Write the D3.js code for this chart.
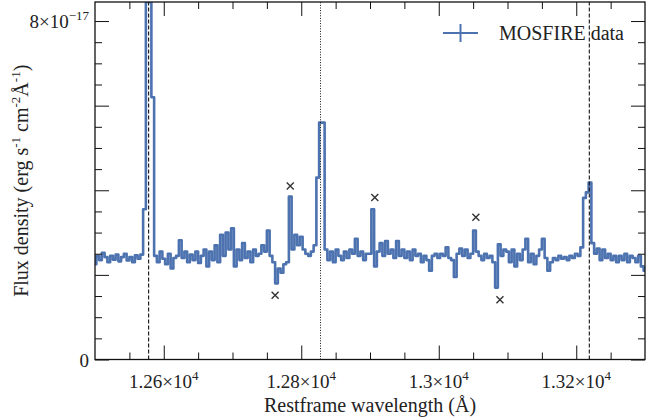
<!DOCTYPE html>
<html>
<head>
<meta charset="utf-8">
<script src="https://cdn.jsdelivr.net/npm/d3@7"></script>
<style>
  body { margin: 0; background: #fff; }
  text { font-family: "Liberation Serif", "Times New Roman", Times, serif; fill: #222; }
</style>
</head>
<body>
<div id="chart"></div>
<script>
// Spectrum: restframe wavelength (Å) and flux density (units of 1e-17 erg/s/cm2/Å)
const wavelengths = [
  12500, 12504, 12508, 12512, 12516, 12520, 12524, 12528, 12532, 12536,
  12540, 12544, 12548, 12552, 12556, 12560, 12564, 12568, 12572, 12576,
  12580, 12584, 12588, 12592, 12596, 12600, 12604, 12608, 12612, 12616,
  12620, 12624, 12628, 12632, 12636, 12640, 12644, 12648, 12652, 12656,
  12660, 12664, 12668, 12672, 12676, 12680, 12684, 12688, 12692, 12696,
  12700, 12704, 12708, 12712, 12716, 12720, 12724, 12728, 12732, 12736,
  12740, 12744, 12748, 12752, 12756, 12760, 12764, 12768, 12772, 12776,
  12780, 12784, 12788, 12792, 12796, 12800, 12804, 12808, 12812, 12816,
  12820, 12824, 12828, 12832, 12836, 12840, 12844, 12848, 12852, 12856,
  12860, 12864, 12868, 12872, 12876, 12880, 12884, 12888, 12892, 12896,
  12900, 12904, 12908, 12912, 12916, 12920, 12924, 12928, 12932, 12936,
  12940, 12944, 12948, 12952, 12956, 12960, 12964, 12968, 12972, 12976,
  12980, 12984, 12988, 12992, 12996, 13000, 13004, 13008, 13012, 13016,
  13020, 13024, 13028, 13032, 13036, 13040, 13044, 13048, 13052, 13056,
  13060, 13064, 13068, 13072, 13076, 13080, 13084, 13088, 13092, 13096,
  13100, 13104, 13108, 13112, 13116, 13120, 13124, 13128, 13132, 13136,
  13140, 13144, 13148, 13152, 13156, 13160, 13164, 13168, 13172, 13176,
  13180, 13184, 13188, 13192, 13196, 13200, 13204, 13208, 13212, 13216,
  13220, 13224, 13228, 13232, 13236, 13240, 13244, 13248, 13252, 13256,
  13260, 13264, 13268, 13272, 13276, 13280, 13284, 13288, 13292, 13296,
  13300
];
const flux = [
  2.25, 2.45, 2.35, 2.52, 2.42, 2.3, 2.45, 2.36, 2.48, 2.32,
  2.42, 2.5, 2.34, 2.42, 2.3, 2.46, 2.38, 2.48, 3.55, 8.45,
  8.45, 6.2, 2.45, 2.3, 2.55, 2.38, 2.25, 2.5, 2.15, 2.4,
  2.45, 2.82, 2.4, 2.55, 2.3, 2.48, 2.35, 2.55, 2.28, 2.45,
  2.6, 2.2, 2.55, 2.35, 2.7, 2.3, 2.95, 2.45, 3.0, 2.6,
  3.1, 2.2, 2.6, 2.35, 2.75, 2.4, 2.55, 2.3, 2.6, 2.45,
  2.5, 2.7, 2.55, 3.05, 2.45, 2.3, 1.8, 2.15, 2.05, 2.25,
  2.3, 3.85, 2.6, 2.95, 2.7, 2.9, 2.6, 2.5, 2.45, 2.55,
  2.7, 4.3, 5.6, 5.6, 2.6, 2.35, 2.55, 2.3, 2.6, 2.45,
  2.35, 2.55, 2.4, 2.6, 2.5, 2.85, 2.45, 2.55, 2.35, 2.5,
  2.5, 3.55, 2.2, 2.55, 2.75, 2.45, 2.8, 2.5, 2.6, 2.4,
  2.8, 2.45, 2.6, 2.4, 2.55, 2.35, 2.6, 2.45, 2.5, 2.3,
  2.45, 2.35, 2.1, 2.45, 2.5, 2.4, 2.5, 2.45, 2.65, 2.4,
  2.35, 1.95, 2.5, 2.62, 2.45, 2.6, 2.4, 2.5, 3.05, 2.55,
  2.45, 2.35, 2.5, 2.4, 2.45, 2.3, 1.7, 2.72, 2.45, 2.6,
  2.55, 2.3, 2.6, 2.2, 2.5, 2.35, 2.6, 2.85, 2.3, 2.5,
  2.25, 2.45, 2.6, 2.85, 2.4, 2.1, 2.3, 2.4, 2.35, 2.45,
  2.38, 2.42, 2.35, 2.45, 2.4, 2.5, 2.45, 2.65, 3.82, 3.95,
  4.18, 2.75, 2.5, 2.62, 2.35, 2.6, 2.4, 2.5, 2.35, 2.45,
  2.3, 2.45, 2.35, 2.5, 2.3, 2.45, 2.4, 2.3, 2.45, 2.2,
  2.1
];

// Flagged residuals (x markers)
const markerWave = [12762, 12784, 12907, 13054, 13089];
const markerFlux = [1.52, 4.10, 3.83, 3.36, 1.41];

// Line positions
const dashedLines = [12578, 13219];
const dottedLines = [12828];

// Ticks
const xMajor = [12600, 12800, 13000, 13200];
const xMinor = [12550, 12650, 12700, 12750, 12850, 12900, 12950, 13050, 13100, 13150, 13250];
const xLabelMantissa = ['1.26', '1.28', '1.3', '1.32'];
const yMajor = [0, 2, 4, 6, 8];
const yMinor = [0.5, 1, 1.5, 2.5, 3, 3.5, 4.5, 5, 5.5, 6.5, 7, 7.5];
const yLabelValues = [0, 8];
const yLabelMantissa = ['0', '8'];
const yLabelExponent = ['', '−17'];

const width = 657;
const height = 420;
const blue = '#4c72b0';

const svg = d3.select('#chart')
  .append('svg')
  .attr('width', width)
  .attr('height', height);

const x = d3.scaleLinear().domain([12500, 13300]).range([95, 645]);
const y = d3.scaleLinear().domain([0, 8.45]).range([359.5, 2]);

svg.append('clipPath').attr('id', 'plot-clip')
  .append('rect')
  .attr('x', x.range()[0]).attr('y', y.range()[1])
  .attr('width', x.range()[1] - x.range()[0])
  .attr('height', y.range()[0] - y.range()[1]);

// Spectrum as steps
const spec = wavelengths.map((w, i) => [w, flux[i]]);
const line = d3.line()
  .x(d => x(d[0]))
  .y(d => y(d[1]))
  .curve(d3.curveStep);

svg.append('path')
  .datum(spec)
  .attr('clip-path', 'url(#plot-clip)')
  .attr('fill', 'none')
  .attr('stroke', blue)
  .attr('stroke-width', 2.6)
  .attr('stroke-linejoin', 'round')
  .attr('d', line);

// Vertical reference lines
svg.selectAll('.dashed')
  .data(dashedLines)
  .join('line')
  .attr('x1', d => x(d)).attr('x2', d => x(d))
  .attr('y1', y.range()[0]).attr('y2', y.range()[1])
  .attr('stroke', '#111')
  .attr('stroke-width', 1.1)
  .attr('stroke-dasharray', '4,2');

svg.selectAll('.dotted')
  .data(dottedLines)
  .join('line')
  .attr('x1', d => x(d)).attr('x2', d => x(d))
  .attr('y1', y.range()[0]).attr('y2', y.range()[1])
  .attr('stroke', '#111')
  .attr('stroke-width', 1)
  .attr('stroke-dasharray', '1,1.6');

// x markers
const ms = 3.5;
const markers = svg.selectAll('.marker')
  .data(markerWave.map((w, i) => [w, markerFlux[i]]))
  .join('g')
  .attr('transform', d => `translate(${x(d[0])},${y(d[1])})`);
markers.append('path')
  .attr('d', `M${-ms},${-ms}L${ms},${ms}M${-ms},${ms}L${ms},${-ms}`)
  .attr('stroke', '#333')
  .attr('stroke-width', 1.4)
  .attr('fill', 'none');

// Axes with inward ticks on all four sides
function tickAxis(axis, values, size, transform) {
  const g = svg.append('g')
    .attr('transform', transform)
    .call(axis.tickValues(values).tickSize(size).tickFormat(''));
  g.select('.domain').remove();
  g.selectAll('line').attr('stroke', '#111').attr('stroke-width', 1);
}
const bottomY = y.range()[0], topY = y.range()[1];
const leftX = x.range()[0], rightX = x.range()[1];
tickAxis(d3.axisBottom(x), xMajor, -14, `translate(0,${bottomY})`);
tickAxis(d3.axisBottom(x), xMinor, -7, `translate(0,${bottomY})`);
tickAxis(d3.axisTop(x), xMajor, -14, `translate(0,${topY})`);
tickAxis(d3.axisTop(x), xMinor, -7, `translate(0,${topY})`);
tickAxis(d3.axisLeft(y), yMajor, -14, `translate(${leftX},0)`);
tickAxis(d3.axisLeft(y), yMinor, -7, `translate(${leftX},0)`);
tickAxis(d3.axisRight(y), yMajor, -14, `translate(${rightX},0)`);
tickAxis(d3.axisRight(y), yMinor, -7, `translate(${rightX},0)`);

svg.append('rect')
  .attr('x', leftX).attr('y', topY)
  .attr('width', rightX - leftX).attr('height', bottomY - topY)
  .attr('fill', 'none')
  .attr('stroke', '#111')
  .attr('stroke-width', 1.3);

// Tick labels
const xl = svg.selectAll('.xlabel')
  .data(xMajor)
  .join('text')
  .attr('x', d => x(d))
  .attr('y', bottomY + 28)
  .attr('text-anchor', 'middle')
  .style('font-size', '19px');
xl.append('tspan').text((d, i) => xLabelMantissa[i] + '×10');
xl.append('tspan').attr('dy', -8).style('font-size', '13px').text('4');

const yl = svg.selectAll('.ylabel')
  .data(yLabelValues)
  .join('text')
  .attr('x', leftX - 6)
  .attr('y', d => y(d) + 7)
  .attr('text-anchor', 'end')
  .style('font-size', '19px');
yl.append('tspan').text((d, i) => yLabelMantissa[i] + (yLabelExponent[i] ? '×10' : ''));
yl.append('tspan').attr('dy', -8).style('font-size', '13px').text((d, i) => yLabelExponent[i]);

// Axis titles
svg.append('text')
  .attr('x', (leftX + rightX) / 2)
  .attr('y', 412)
  .attr('text-anchor', 'middle')
  .style('font-size', '20px')
  .text('Restframe wavelength (Å)');

const yt = svg.append('text')
  .attr('transform', `translate(28,${(topY + bottomY) / 2}) rotate(-90)`)
  .attr('text-anchor', 'middle')
  .style('font-size', '20px');
yt.append('tspan').text('Flux density (erg s');
yt.append('tspan').attr('dy', -8).style('font-size', '13px').text('-1');
yt.append('tspan').attr('dy', 8).text(' cm');
yt.append('tspan').attr('dy', -8).style('font-size', '13px').text('-2');
yt.append('tspan').attr('dy', 8).text('Å');
yt.append('tspan').attr('dy', -8).style('font-size', '13px').text('-1');
yt.append('tspan').attr('dy', 8).text(')');

// Legend
const legend = svg.append('g').attr('transform', 'translate(443,33)');
legend.append('line').attr('x1', 0).attr('x2', 35).attr('y1', 0).attr('y2', 0)
  .attr('stroke', blue).attr('stroke-width', 2);
legend.append('line').attr('x1', 17.5).attr('x2', 17.5).attr('y1', -9).attr('y2', 9)
  .attr('stroke', blue).attr('stroke-width', 2);
legend.append('text').attr('x', 56).attr('y', 7)
  .style('font-size', '20px')
  .text('MOSFIRE data');
</script>
</body>
</html>
